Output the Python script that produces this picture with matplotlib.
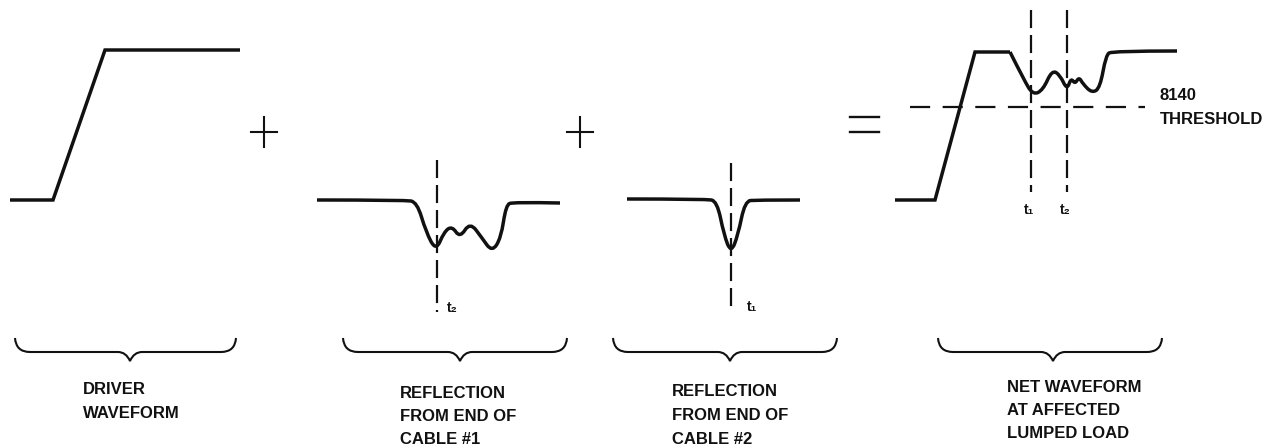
import matplotlib
matplotlib.use("Agg")
import matplotlib.pyplot as plt
from matplotlib.path import Path
from matplotlib.patches import PathPatch

plt.rcParams['font.family'] = ['Liberation Sans', 'DejaVu Sans']
plt.rcParams['lines.scale_dashes'] = False

INK = "#111111"

# Waveform outlines (pixel space: x right, y down)
driver_x = [10, 53, 105, 240]
driver_y = [200, 200, 50, 50]

refl1_x = [317, 405, 417, 426, 436, 444, 452, 460, 470, 482, 492, 501, 506, 513, 560]
refl1_y = [200, 200, 202, 232, 251, 232, 226, 238, 222, 238, 252, 238, 205, 202, 203]

refl2_x = [627, 706, 717, 724, 731, 738, 745, 756, 800]
refl2_y = [199, 199, 201, 235, 253, 235, 201, 200, 200]

net_edge_x = [895, 935, 975, 1010]
net_edge_y = [200, 200, 52, 52]
net_x = [1010, 1024, 1033, 1043, 1052, 1060, 1067, 1071, 1075, 1079, 1083, 1092, 1100, 1106, 1112, 1177]
net_y = [52, 80, 95, 90, 70, 75, 90, 78, 84, 77, 84, 93, 88, 55, 51, 51]

# Marker lines (t1 / t2 instants and threshold)
vline_x = [437, 731, 1031, 1067]
vline_top = [160, 163, 10, 10]
vline_bottom = [312, 313, 192, 192]
threshold_y = 107
threshold_x = [910, 1145]

# t labels
t_labels = ["t₂", "t₁", "t₁", "t₂"]
t_label_x = [452, 752, 1029, 1065]
t_label_y = [308, 307, 210, 210]

# Operators
plus_cx = [264, 580]
plus_cy = [132, 132]
plus_half = 13
equals_x = [850, 879]
equals_y = [117, 132]

# Braces
brace_left = [15, 343, 613, 938]
brace_right = [236, 567, 837, 1162]
brace_tip = [130, 460, 730, 1053]
brace_top, brace_mid, brace_low = 338, 352, 361

# Captions
captions = [
    ["DRIVER", "WAVEFORM"],
    ["REFLECTION", "FROM END OF", "CABLE #1"],
    ["REFLECTION", "FROM END OF", "CABLE #2"],
    ["NET WAVEFORM", "AT AFFECTED", "LUMPED LOAD"],
]
caption_x = [83, 400, 672, 1007]
caption_y0 = [390, 393, 392, 387]
caption_step = 23.5


def smooth_path(xs, ys):
    verts = [(xs[0], ys[0])]
    codes = [Path.MOVETO]
    for i in range(1, len(xs) - 2):
        mx = (xs[i] + xs[i + 1]) / 2
        my = (ys[i] + ys[i + 1]) / 2
        verts += [(xs[i], ys[i]), (mx, my)]
        codes += [Path.CURVE3, Path.CURVE3]
    verts += [(xs[-2], ys[-2]), (xs[-1], ys[-1])]
    codes += [Path.CURVE3, Path.CURVE3]
    return Path(verts, codes)


def brace_path(x0, x1, xt):
    r = 15
    v = [(x0, brace_top), (x0 + 1, brace_mid), (x0 + r, brace_mid),
         (xt - 12, brace_mid), (xt - 4, brace_mid), (xt, brace_low),
         (xt + 4, brace_mid), (xt + 12, brace_mid),
         (x1 - r, brace_mid), (x1 - 1, brace_mid), (x1, brace_top)]
    c = [Path.MOVETO, Path.CURVE3, Path.CURVE3,
         Path.LINETO, Path.CURVE3, Path.CURVE3,
         Path.CURVE3, Path.CURVE3,
         Path.LINETO, Path.CURVE3, Path.CURVE3]
    return Path(v, c)


fig = plt.figure(figsize=(12.8, 4.47), dpi=100)
ax = fig.add_axes([0, 0, 1, 1])
ax.set_xlim(0, 1280)
ax.set_ylim(447, 0)
ax.axis("off")

wave_kw = dict(color=INK, lw=2.5, solid_joinstyle="miter", solid_capstyle="butt")
ax.plot(driver_x, driver_y, **wave_kw)
ax.plot(net_edge_x, net_edge_y, **wave_kw)
for xs, ys in [(refl1_x, refl1_y), (refl2_x, refl2_y), (net_x, net_y)]:
    ax.add_patch(PathPatch(smooth_path(xs, ys), fill=False, edgecolor=INK,
                           lw=2.5, capstyle="butt", joinstyle="round"))

for x, y0, y1 in zip(vline_x, vline_top, vline_bottom):
    ax.plot([x, x], [y0, y1], color=INK, lw=1.6, dashes=(13, 5))
ax.plot(threshold_x, [threshold_y, threshold_y], color=INK, lw=1.6, dashes=(14.5, 9))

for s, x, y in zip(t_labels, t_label_x, t_label_y):
    ax.text(x, y, s, ha="center", va="center", fontsize=10, fontweight="bold", color=INK)

for cx, cy in zip(plus_cx, plus_cy):
    ax.plot([cx - plus_half, cx + plus_half], [cy, cy], color=INK, lw=1.5)
    ax.plot([cx, cx], [cy - 15, cy + 15], color=INK, lw=1.5)
for y in equals_y:
    ax.plot(equals_x, [y, y], color=INK, lw=1.7)

for x0, x1, xt in zip(brace_left, brace_right, brace_tip):
    ax.add_patch(PathPatch(brace_path(x0, x1, xt), fill=False, edgecolor=INK, lw=1.5))

for lines, x, y0 in zip(captions, caption_x, caption_y0):
    for i, s in enumerate(lines):
        ax.text(x, y0 + i * caption_step, s, ha="left", va="center",
                fontsize=12, fontweight="bold", color=INK)

ax.text(1160, 96, "8140", ha="left", va="center", fontsize=12, fontweight="bold", color=INK)
ax.text(1160, 119, "THRESHOLD", ha="left", va="center", fontsize=12, fontweight="bold", color=INK)

fig.savefig("out.png", dpi=100, facecolor="white")
